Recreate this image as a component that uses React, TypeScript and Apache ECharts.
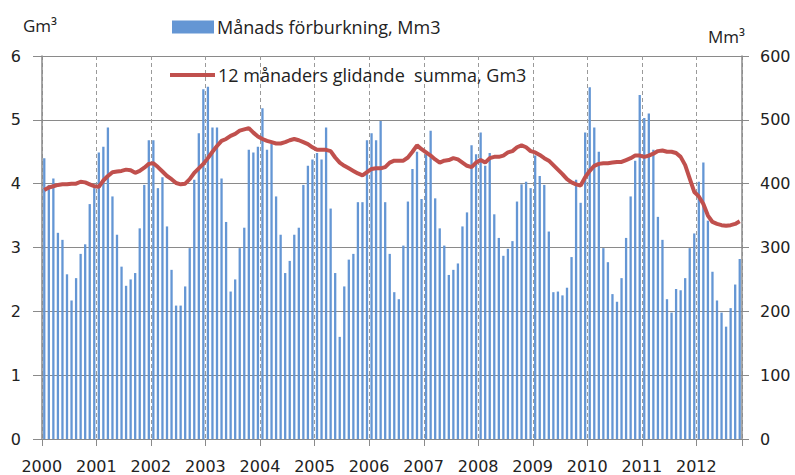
import React, { useEffect, useRef } from "react";
import * as echarts from "echarts";

const years = [2000, 2001, 2002, 2003, 2004, 2005, 2006, 2007, 2008, 2009, 2010, 2011, 2012];

// Monthly consumption, Mm3 (Jan 2000 – Oct 2012)
const bars2000 = [440, 398, 408, 323, 312, 258, 217, 252, 290, 305, 368, 393];
const bars2001 = [449, 458, 488, 380, 320, 270, 240, 250, 260, 330, 398, 468];
const bars2002 = [468, 393, 410, 333, 265, 209, 209, 239, 299, 406, 479, 548];
const bars2003 = [552, 488, 488, 408, 340, 231, 250, 299, 331, 453, 449, 458];
const bars2004 = [518, 453, 463, 380, 320, 260, 279, 320, 331, 398, 428, 438];
const bars2005 = [448, 438, 488, 361, 260, 160, 239, 281, 290, 371, 371, 468];
const bars2006 = [479, 468, 498, 371, 290, 230, 219, 303, 372, 423, 450, 376];
const bars2007 = [446, 483, 377, 330, 303, 257, 265, 275, 333, 355, 460, 446];
const bars2008 = [480, 428, 448, 352, 315, 287, 298, 310, 372, 399, 403, 393];
const bars2009 = [444, 412, 398, 325, 230, 231, 225, 237, 285, 406, 370, 480];
const bars2010 = [551, 488, 450, 299, 277, 227, 215, 252, 315, 380, 436, 539];
const bars2011 = [503, 510, 453, 348, 312, 219, 198, 235, 233, 252, 299, 322];
const bars2012 = [403, 433, 342, 262, 217, 198, 176, 205, 242, 282];

// 12-month moving sum, Gm3
const sum2000 = [3.9, 3.94, 3.96, 3.98, 3.99, 3.99, 4.0, 4.0, 4.03, 4.02, 3.99, 3.96];
const sum2001 = [3.95, 4.05, 4.12, 4.18, 4.19, 4.2, 4.22, 4.21, 4.17, 4.2, 4.25, 4.31];
const sum2002 = [4.32, 4.26, 4.19, 4.12, 4.07, 4.01, 3.99, 4.0, 4.07, 4.17, 4.24, 4.31];
const sum2003 = [4.4, 4.5, 4.59, 4.67, 4.7, 4.75, 4.78, 4.83, 4.85, 4.87, 4.8, 4.74];
const sum2004 = [4.7, 4.67, 4.65, 4.63, 4.63, 4.65, 4.68, 4.7, 4.68, 4.65, 4.62, 4.57];
const sum2005 = [4.53, 4.53, 4.53, 4.51, 4.41, 4.33, 4.28, 4.24, 4.2, 4.16, 4.13, 4.18];
const sum2006 = [4.23, 4.24, 4.24, 4.26, 4.33, 4.36, 4.36, 4.36, 4.41, 4.5, 4.6, 4.54];
const sum2007 = [4.49, 4.44, 4.38, 4.33, 4.36, 4.37, 4.4, 4.38, 4.33, 4.28, 4.26, 4.33];
const sum2008 = [4.37, 4.33, 4.4, 4.42, 4.42, 4.44, 4.49, 4.51, 4.57, 4.6, 4.57, 4.51];
const sum2009 = [4.49, 4.45, 4.4, 4.36, 4.29, 4.22, 4.15, 4.07, 4.02, 3.99, 3.97, 4.1];
const sum2010 = [4.2, 4.28, 4.31, 4.32, 4.32, 4.33, 4.34, 4.34, 4.37, 4.4, 4.44, 4.44];
const sum2011 = [4.42, 4.44, 4.47, 4.51, 4.52, 4.5, 4.5, 4.48, 4.42, 4.29, 4.08, 3.87];
const sum2012 = [3.8, 3.68, 3.5, 3.4, 3.37, 3.35, 3.34, 3.35, 3.37, 3.41];

const BAR_NAME = "Månads förburkning, Mm3";
const LINE_NAME = "12 månaders glidande  summa, Gm3";

const monthlyBars = [
  ...bars2000, ...bars2001, ...bars2002, ...bars2003, ...bars2004, ...bars2005, ...bars2006,
  ...bars2007, ...bars2008, ...bars2009, ...bars2010, ...bars2011, ...bars2012,
];
const movingSum = [
  ...sum2000, ...sum2001, ...sum2002, ...sum2003, ...sum2004, ...sum2005, ...sum2006,
  ...sum2007, ...sum2008, ...sum2009, ...sum2010, ...sum2011, ...sum2012,
];
const months: string[] = [];
years.forEach((y) => {
  for (let m = 1; m <= 12; m++) months.push(`${y}-${m < 10 ? "0" + m : m}`);
});
const categories = months.slice(0, monthlyBars.length);

const GRID = "#8a8a8a";
const LABEL = "#222";

export default function App() {
  const ref = useRef<HTMLDivElement>(null);
  useEffect(() => {
    if (!ref.current) return;
    const chart = echarts.init(ref.current, undefined, { renderer: "svg" });
    const yearTick = (i: number) => i % 12 === 0;
    chart.setOption({
      animation: false,
      backgroundColor: "#ffffff",
      grid: { left: 42, right: 53, top: 56, bottom: 36 },
      legend: [
        {
          data: [{ name: BAR_NAME, icon: "rect" }],
          left: 172,
          top: 18,
          padding: 0,
          itemWidth: 42,
          itemHeight: 13,
          selectedMode: false,
          textStyle: { fontFamily: "Open Sans", fontSize: 18, color: LABEL, padding: [0, 0, 0, -2] },
        },
        {
          data: [{ name: LINE_NAME, icon: "rect" }],
          left: 170,
          top: 66,
          padding: 0,
          itemWidth: 45,
          itemHeight: 4,
          selectedMode: false,
          textStyle: { fontFamily: "Open Sans", fontSize: 18, color: LABEL, padding: [0, 0, 0, -2] },
        },
      ],
      xAxis: {
        type: "category",
        data: categories,
        boundaryGap: true,
        axisLine: { show: true, lineStyle: { color: GRID, width: 1 } },
        axisTick: { show: true, interval: yearTick, length: 7, lineStyle: { color: GRID } },
        axisLabel: {
          interval: yearTick,
          formatter: (v: string) => v.slice(0, 4),
          margin: 19,
          fontSize: 16,
          color: LABEL,
          fontFamily: "DejaVu Sans",
          padding: [0, 5, 0, 0],
        },
        splitLine: {
          show: true,
          interval: yearTick,
          lineStyle: { type: [4, 3], color: "#9a9a9a", width: 1 },
        },
      },
      yAxis: [
        {
          type: "value",
          position: "left",
          min: 0,
          max: 6,
          interval: 1,
          axisLine: { show: true, lineStyle: { color: GRID, width: 1.5 } },
          axisTick: { show: true, length: 9, lineStyle: { color: GRID } },
          axisLabel: { margin: 21, fontSize: 16, color: LABEL, fontFamily: "DejaVu Sans" },
          splitLine: { show: true, lineStyle: { color: GRID, width: 1.2 } },
        },
        {
          type: "value",
          position: "right",
          min: 0,
          max: 600,
          interval: 100,
          axisLine: { show: true, lineStyle: { color: GRID, width: 1.5 } },
          axisTick: { show: true, length: 7, lineStyle: { color: GRID } },
          axisLabel: { margin: 18, fontSize: 16, color: LABEL, fontFamily: "DejaVu Sans" },
          splitLine: { show: false },
        },
      ],
      series: [
        {
          name: BAR_NAME,
          type: "bar",
          yAxisIndex: 1,
          data: monthlyBars,
          barWidth: 2.3,
          itemStyle: { color: "#6496d4" },
          z: 2,
        },
        {
          name: LINE_NAME,
          type: "line",
          yAxisIndex: 0,
          data: movingSum,
          symbol: "none",
          lineStyle: { color: "#c0504d", width: 4 },
          itemStyle: { color: "#c0504d" },
          z: 3,
        },
      ],
      graphic: [
        {
          type: "text",
          left: 23,
          top: 17,
          style: { text: "Gm³", fontFamily: "Open Sans", fontSize: 17, fill: LABEL },
        },
        {
          type: "text",
          left: 708,
          top: 28,
          style: { text: "Mm³", fontFamily: "Open Sans", fontSize: 17, fill: LABEL },
        },
      ],
    });
    return () => chart.dispose();
  }, []);
  return (
    <div
      ref={ref}
      style={{ position: "fixed", left: 0, top: 0, width: 795, height: 475, background: "#fff" }}
    />
  );
}
